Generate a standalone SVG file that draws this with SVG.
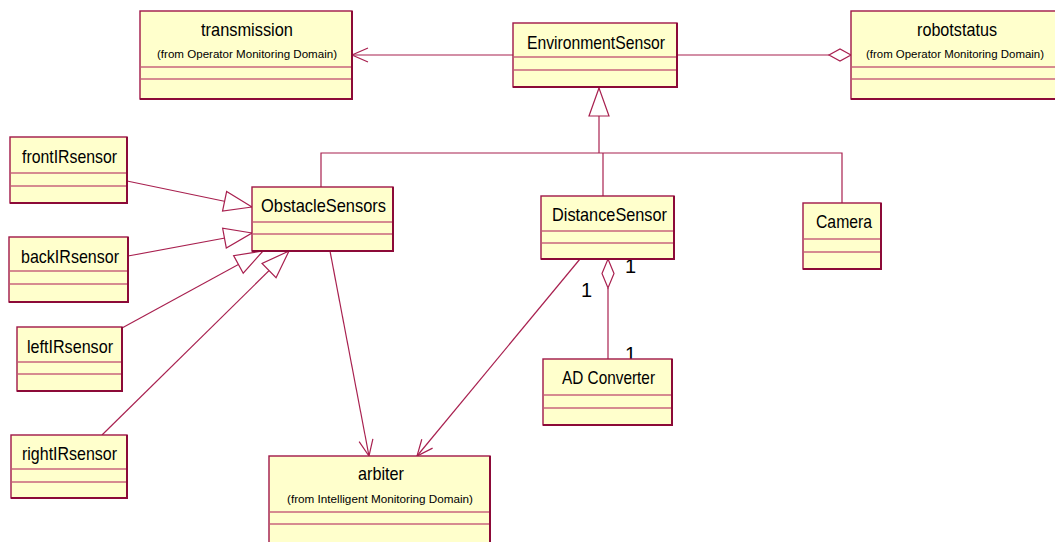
<svg xmlns="http://www.w3.org/2000/svg" width="1055" height="542" viewBox="0 0 1055 542">
  <style>
    .box { fill: #ffffcc; stroke: #a01848; stroke-width: 1.4; }
    .edge { fill: none; stroke: #8c0a38; stroke-width: 2; }
    .div { stroke: #c8647c; stroke-width: 1.3; }
    .t { font-family: "Liberation Sans", Arial, sans-serif; font-size: 19px; fill: #000; }
    .s { font-family: "Liberation Sans", Arial, sans-serif; font-size: 11.5px; fill: #000; }
    .m { font-family: "Liberation Sans", Arial, sans-serif; font-size: 20px; fill: #000; }
    .c { fill: none; stroke: #a8204f; stroke-width: 1.2; }
  </style>
  <defs>
    <marker id="gen" markerUnits="userSpaceOnUse" viewBox="-30 -12 32 24" markerWidth="32" markerHeight="24" refX="0" refY="0" orient="auto">
      <path d="M0,0 L-28,-10 L-28,10 Z" fill="#ffffff" stroke="#a8204f" stroke-width="1.2"/>
    </marker>
    <marker id="open" markerUnits="userSpaceOnUse" viewBox="-18 -9 20 18" markerWidth="20" markerHeight="18" refX="0" refY="0" orient="auto">
      <path d="M-16,-7 L0,0 L-16,7" fill="none" stroke="#a8204f" stroke-width="1.2"/>
    </marker>
  </defs>

  <!-- connectors -->
  <g id="connectors">
    <path class="c" d="M513,55 L352,55" marker-end="url(#open)"/>
    <path class="c" d="M677,55 L829,55"/>
    <polygon class="c" fill="#ffffff" points="851,55 840,49 829,55 840,61"/>
    <path class="c" d="M599,153 L599,88" marker-end="url(#gen)"/>
    <path class="c" d="M321,187 L321,153 L842,153 L842,203"/>
    <path class="c" d="M603,153 L603,196"/>
    <path class="c" d="M127,181 L252,207" marker-end="url(#gen)"/>
    <path class="c" d="M128,256 L252,233" marker-end="url(#gen)"/>
    <path class="c" d="M122,328 L263,251" marker-end="url(#gen)"/>
    <path class="c" d="M102,435 L289,251" marker-end="url(#gen)"/>
    <path class="c" d="M330,251 L369,456" marker-end="url(#open)"/>
    <path class="c" d="M580,259 L417,456" marker-end="url(#open)"/>
    <polygon class="c" fill="#ffffff" points="608,259 614,273.5 608,288 602,273.5"/>
    <path class="c" d="M608,288 L608,359"/>
    <text class="m" x="625" y="273">1</text>
    <text class="m" x="581" y="297">1</text>
    <text class="m" x="625" y="361">1</text>
  </g>

  <!-- transmission -->
  <g id="transmission">
    <rect class="box" x="140" y="11" width="212" height="88"/>
    <path class="edge" d="M352,11 L352,99 L140,99"/>
    <line class="div" x1="141" y1="67" x2="351" y2="67"/>
    <line class="div" x1="141" y1="79" x2="351" y2="79"/>
    <text class="t" x="201" y="36" textLength="92" lengthAdjust="spacingAndGlyphs">transmission</text>
    <text class="s" x="157" y="58" textLength="180" lengthAdjust="spacingAndGlyphs">(from Operator Monitoring Domain)</text>
  </g>

  <!-- EnvironmentSensor -->
  <g id="EnvironmentSensor">
    <rect class="box" x="513" y="23" width="164" height="64"/>
    <path class="edge" d="M677,23 L677,87 L513,87"/>
    <line class="div" x1="514" y1="57" x2="676" y2="57"/>
    <line class="div" x1="514" y1="70" x2="676" y2="70"/>
    <text class="t" x="527" y="49" textLength="138" lengthAdjust="spacingAndGlyphs">EnvironmentSensor</text>
  </g>

  <!-- robotstatus (runs off the right edge of the page) -->
  <g id="robotstatus">
    <rect class="box" x="851" y="11" width="206" height="88"/>
    <path class="edge" d="M851,99 L1057,99"/>
    <line class="div" x1="852" y1="67" x2="1056" y2="67"/>
    <line class="div" x1="852" y1="79" x2="1056" y2="79"/>
    <text class="t" x="917" y="36" textLength="80" lengthAdjust="spacingAndGlyphs">robotstatus</text>
    <text class="s" x="866" y="58" textLength="178" lengthAdjust="spacingAndGlyphs">(from Operator Monitoring Domain)</text>
  </g>

  <!-- frontIRsensor -->
  <g id="frontIRsensor">
    <rect class="box" x="10" y="137" width="117" height="66"/>
    <path class="edge" d="M127,137 L127,203 L10,203"/>
    <line class="div" x1="11" y1="173" x2="126" y2="173"/>
    <line class="div" x1="11" y1="186" x2="126" y2="186"/>
    <text class="t" x="22" y="163" textLength="95" lengthAdjust="spacingAndGlyphs">frontIRsensor</text>
  </g>

  <!-- backIRsensor -->
  <g id="backIRsensor">
    <rect class="box" x="9" y="237" width="119" height="65"/>
    <path class="edge" d="M128,237 L128,302 L9,302"/>
    <line class="div" x1="10" y1="271" x2="127" y2="271"/>
    <line class="div" x1="10" y1="284" x2="127" y2="284"/>
    <text class="t" x="21" y="263" textLength="98" lengthAdjust="spacingAndGlyphs">backIRsensor</text>
  </g>

  <!-- leftIRsensor -->
  <g id="leftIRsensor">
    <rect class="box" x="17" y="327" width="105" height="64"/>
    <path class="edge" d="M122,327 L122,391 L17,391"/>
    <line class="div" x1="18" y1="362" x2="121" y2="362"/>
    <line class="div" x1="18" y1="374" x2="121" y2="374"/>
    <text class="t" x="27" y="353" textLength="86" lengthAdjust="spacingAndGlyphs">leftIRsensor</text>
  </g>

  <!-- rightIRsensor -->
  <g id="rightIRsensor">
    <rect class="box" x="11" y="435" width="116" height="63"/>
    <path class="edge" d="M127,435 L127,498 L11,498"/>
    <line class="div" x1="12" y1="469" x2="126" y2="469"/>
    <line class="div" x1="12" y1="482" x2="126" y2="482"/>
    <text class="t" x="22" y="460" textLength="95" lengthAdjust="spacingAndGlyphs">rightIRsensor</text>
  </g>

  <!-- ObstacleSensors -->
  <g id="ObstacleSensors">
    <rect class="box" x="252" y="187" width="141" height="64"/>
    <path class="edge" d="M393,187 L393,251 L252,251"/>
    <line class="div" x1="253" y1="222" x2="392" y2="222"/>
    <line class="div" x1="253" y1="234" x2="392" y2="234"/>
    <text class="t" x="261" y="212" textLength="125" lengthAdjust="spacingAndGlyphs">ObstacleSensors</text>
  </g>

  <!-- DistanceSensor -->
  <g id="DistanceSensor">
    <rect class="box" x="541" y="196" width="133" height="63"/>
    <path class="edge" d="M674,196 L674,259 L541,259"/>
    <line class="div" x1="542" y1="231" x2="673" y2="231"/>
    <line class="div" x1="542" y1="243" x2="673" y2="243"/>
    <text class="t" x="552" y="221" textLength="115" lengthAdjust="spacingAndGlyphs">DistanceSensor</text>
  </g>

  <!-- Camera -->
  <g id="Camera">
    <rect class="box" x="803" y="203" width="78" height="66"/>
    <path class="edge" d="M881,203 L881,269 L803,269"/>
    <line class="div" x1="804" y1="239" x2="880" y2="239"/>
    <line class="div" x1="804" y1="252" x2="880" y2="252"/>
    <text class="t" x="816" y="228" textLength="56" lengthAdjust="spacingAndGlyphs">Camera</text>
  </g>

  <!-- AD Converter -->
  <g id="ADConverter">
    <rect class="box" x="543" y="359" width="129" height="66"/>
    <path class="edge" d="M672,359 L672,425 L543,425"/>
    <line class="div" x1="544" y1="395" x2="671" y2="395"/>
    <line class="div" x1="544" y1="408" x2="671" y2="408"/>
    <text class="t" x="562" y="384" textLength="93" lengthAdjust="spacingAndGlyphs">AD Converter</text>
  </g>

  <!-- arbiter (runs off the bottom edge of the page) -->
  <g id="arbiter">
    <rect class="box" x="269" y="456" width="221" height="100"/>
    <path class="edge" d="M490,456 L490,556"/>
    <line class="div" x1="270" y1="512" x2="489" y2="512"/>
    <line class="div" x1="270" y1="524" x2="489" y2="524"/>
    <text class="t" x="358" y="480" textLength="46" lengthAdjust="spacingAndGlyphs">arbiter</text>
    <text class="s" x="287" y="503" textLength="186" lengthAdjust="spacingAndGlyphs">(from Intelligent Monitoring Domain)</text>
  </g>
</svg>
